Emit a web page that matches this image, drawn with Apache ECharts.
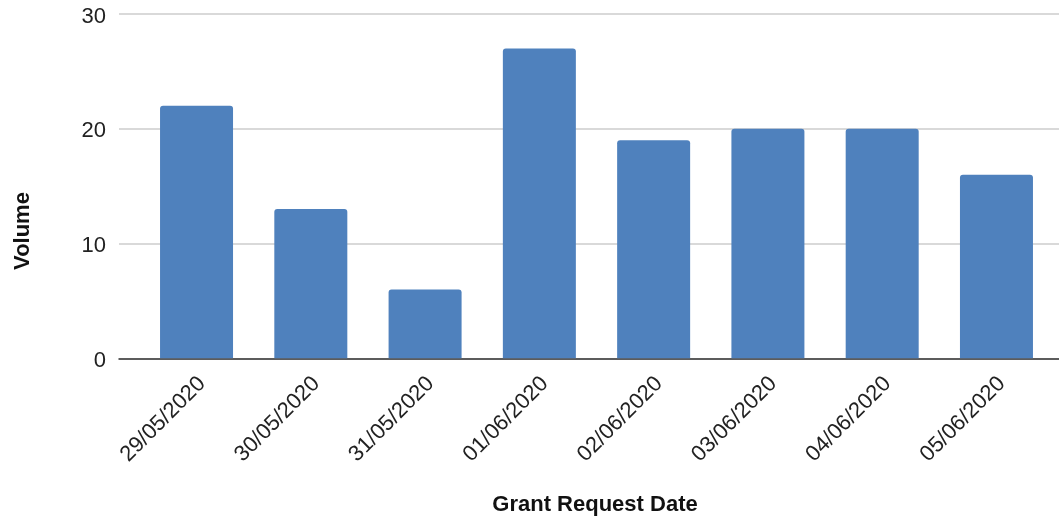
<!DOCTYPE html>
<html>
<head>
<meta charset="utf-8">
<script src="https://cdn.jsdelivr.net/npm/echarts@6/dist/echarts.min.js"></script>
<style>
html,body{margin:0;padding:0;background:#fff;}
#chart{width:1059px;height:519px;}
</style>
</head>
<body>
<div id="chart"></div>
<script>
const categories = ['29/05/2020','30/05/2020','31/05/2020','01/06/2020','02/06/2020','03/06/2020','04/06/2020','05/06/2020'];
const volumes = [22, 13, 6, 27, 19, 20, 20, 16];
const yMin = 0, yMax = 30, yInterval = 10;
const xTitle = 'Grant Request Date';
const yTitle = 'Volume';

const FONT = '"Liberation Sans", Arial, sans-serif';
const TOP = 14, H = 344.3;
const chart = echarts.init(document.getElementById('chart'), null, {renderer: 'canvas'});
chart.setOption({
  backgroundColor: '#ffffff',
  animation: false,
  grid: [
    {left: 119, right: 0, top: TOP, height: H},          // gridlines + baseline
    {left: 139.4, right: 5.4, top: TOP, height: H},      // bars
    {left: 119, right: 0, top: TOP + 2.5, height: H},    // y tick labels
    {left: 145, right: -0.2, top: TOP, height: H}        // x tick labels
  ],
  xAxis: [
    {
      gridIndex: 0, type: 'value', min: 0, max: 1,
      axisLine: {show: true, lineStyle: {color: '#333333', width: 1.5}},
      axisTick: {show: false}, axisLabel: {show: false}, splitLine: {show: false}
    },
    {
      gridIndex: 1, type: 'category', data: categories,
      axisLine: {show: false}, axisTick: {show: false}, axisLabel: {show: false}
    },
    {
      gridIndex: 2, type: 'value', min: 0, max: 1, show: false
    },
    {
      gridIndex: 3, type: 'category', data: categories,
      axisLine: {show: false}, axisTick: {show: false},
      axisLabel: {
        rotate: 45, margin: 22, interval: 0,
        fontFamily: FONT, fontSize: 22, color: '#222222'
      }
    }
  ],
  yAxis: [
    {
      gridIndex: 0, type: 'value', min: yMin, max: yMax, interval: yInterval,
      axisLine: {show: false}, axisTick: {show: false}, axisLabel: {show: false},
      splitLine: {lineStyle: {color: '#cccccc', width: 1.5}}
    },
    {
      gridIndex: 1, type: 'value', min: yMin, max: yMax, interval: yInterval,
      show: false, splitLine: {show: false}
    },
    {
      gridIndex: 2, type: 'value', min: yMin, max: yMax, interval: yInterval,
      axisLine: {show: false}, axisTick: {show: false}, splitLine: {show: false},
      axisLabel: {margin: 13, fontFamily: FONT, fontSize: 22, color: '#222222'}
    },
    {
      gridIndex: 3, type: 'value', min: yMin, max: yMax, show: false
    }
  ],
  series: [{
    type: 'bar',
    xAxisIndex: 1, yAxisIndex: 1,
    data: volumes,
    barWidth: 73,
    itemStyle: {color: '#4f81bd', borderRadius: [3,3,0,0]}
  }],
  graphic: [
    {
      type: 'text', x: 595, y: 505,
      style: {
        text: xTitle, fontFamily: FONT, fontSize: 22, fontWeight: 'bold',
        fill: '#111111', align: 'center', verticalAlign: 'middle'
      }
    },
    {
      type: 'text',
      x: 23, y: 231, rotation: Math.PI / 2,
      style: {
        text: yTitle, fontFamily: FONT, fontSize: 22, fontWeight: 'bold',
        fill: '#111111', align: 'center', verticalAlign: 'middle'
      }
    }
  ]
});
</script>
</body>
</html>
